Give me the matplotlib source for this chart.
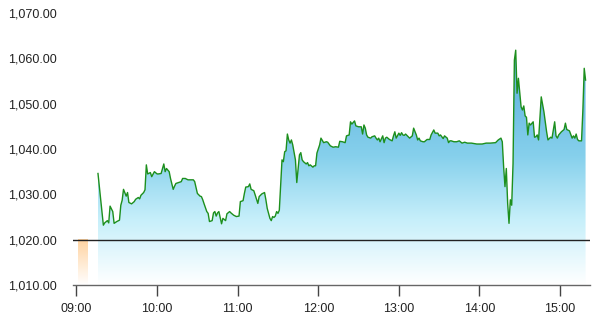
import matplotlib
matplotlib.use("Agg")
import matplotlib.pyplot as plt
import numpy as np
from matplotlib.colors import LinearSegmentedColormap
from matplotlib.ticker import FuncFormatter

plt.rcParams['font.family'] = ['Liberation Sans', 'DejaVu Sans']

times = ["09:16","09:20","09:21","09:23","09:24","09:25","09:27","09:28","09:30","09:32",
         "09:33","09:34","09:35","09:37","09:38","09:39","09:41","09:43","09:44","09:46",
         "09:47","09:48","09:49","09:50","09:51","09:52","09:53","09:55","09:56","09:58",
         "10:00","10:01","10:03","10:05","10:06","10:07","10:09","10:10","10:12","10:13",
         "10:14","10:16","10:18","10:19","10:21","10:23","10:25","10:27","10:28","10:30",
         "10:32","10:33","10:34","10:35","10:37","10:38","10:39","10:41","10:42","10:43",
         "10:44","10:45","10:46","10:48","10:49","10:51","10:52","10:54","10:55","10:57",
         "10:59","11:01","11:02","11:04","11:05","11:06","11:08","11:09","11:10","11:12",
         "11:13","11:15","11:16","11:18","11:20","11:21","11:22","11:24","11:25","11:26",
         "11:27","11:28","11:29","11:30","11:31","11:33","11:34","11:35","11:36","11:37",
         "11:38","11:39","11:40","11:41","11:43","11:44","11:46","11:47","11:48","11:49",
         "11:51","11:52","11:53","11:54","11:56","11:57","11:58","11:59","12:01","12:02",
         "12:04","12:06","12:07","12:09","12:11","12:13","12:15","12:16","12:18","12:20",
         "12:21","12:23","12:24","12:25","12:27","12:28","12:30","12:32","12:33","12:34",
         "12:35","12:36","12:37","12:39","12:40","12:42","12:43","12:44","12:45","12:46",
         "12:48","12:49","12:50","12:51","12:53","12:55","12:56","12:57","12:58","13:00",
         "13:01","13:02","13:03","13:04","13:05","13:07","13:08","13:10","13:11","13:13",
         "13:14","13:15","13:16","13:18","13:19","13:21","13:23","13:24","13:26","13:27",
         "13:29","13:30","13:31","13:33","13:34","13:36","13:37","13:38","13:39","13:41",
         "13:43","13:45","13:47","13:49","13:51","13:54","13:58","14:02","14:05","14:08",
         "14:12","14:14","14:16","14:17","14:18","14:19","14:20","14:21","14:22","14:23",
         "14:24","14:25","14:26","14:27","14:28","14:29","14:31","14:32","14:33","14:34",
         "14:35","14:36","14:37","14:38","14:40","14:41","14:42","14:43","14:44","14:46",
         "14:48","14:50","14:51","14:53","14:54","14:56","14:57","14:58","14:59","15:01",
         "15:03","15:04","15:05","15:07","15:09","15:10","15:11","15:12","15:13","15:14",
         "15:16","15:17","15:18","15:19"]

prices = [1034.6,1023.2,1023.7,1024.2,1023.7,1027.4,1026.2,1023.6,1024.0,1024.3,
          1027.6,1028.7,1031.1,1029.6,1030.4,1028.2,1027.9,1028.4,1028.9,1029.3,
          1029.0,1029.8,1030.1,1030.4,1031.0,1036.5,1034.5,1034.8,1033.9,1035.0,
          1034.5,1034.5,1034.6,1036.7,1035.0,1035.7,1035.0,1033.5,1031.1,1031.8,
          1032.4,1032.6,1032.8,1033.5,1033.5,1033.2,1033.2,1033.2,1032.8,1030.2,
          1029.6,1029.5,1028.8,1027.9,1026.2,1025.8,1024.0,1024.2,1025.9,1026.2,
          1025.2,1025.9,1026.2,1023.5,1024.7,1024.2,1025.7,1026.2,1025.9,1025.4,
          1025.1,1025.2,1028.4,1028.6,1030.2,1031.6,1031.7,1032.3,1031.1,1030.8,
          1029.9,1028.0,1029.5,1030.1,1030.4,1028.8,1026.9,1024.7,1024.2,1025.1,
          1024.9,1025.2,1026.2,1025.8,1026.5,1037.6,1037.2,1039.4,1039.6,1043.3,
          1042.0,1041.3,1042.0,1040.9,1037.6,1032.6,1038.7,1039.2,1037.6,1037.2,
          1036.7,1037.0,1036.3,1036.5,1036.0,1036.3,1036.3,1039.1,1040.9,1042.4,
          1041.4,1041.6,1041.5,1040.7,1040.4,1040.5,1040.4,1041.7,1041.6,1041.4,
          1042.9,1043.1,1046.0,1045.5,1046.2,1045.1,1044.9,1044.9,1043.3,1045.3,
          1044.6,1043.1,1042.6,1042.4,1042.7,1042.9,1042.4,1042.0,1042.4,1041.6,
          1042.9,1041.4,1042.4,1042.6,1042.1,1041.8,1042.9,1043.8,1042.4,1043.5,
          1043.0,1043.6,1043.1,1043.0,1043.3,1042.7,1042.4,1042.9,1044.6,1043.1,
          1042.0,1042.4,1041.8,1041.6,1041.6,1042.1,1042.1,1043.1,1044.2,1043.5,
          1043.5,1042.9,1043.1,1042.3,1042.9,1042.4,1041.4,1041.8,1041.8,1041.6,
          1041.6,1041.8,1041.3,1041.5,1041.3,1041.3,1041.1,1041.1,1041.3,1041.3,
          1041.4,1042.0,1042.4,1041.6,1036.1,1031.7,1035.7,1028.0,1023.6,1028.8,
          1027.6,1036.8,1059.6,1061.8,1052.3,1055.6,1049.3,1048.6,1049.5,1047.3,
          1047.0,1043.1,1045.7,1045.3,1046.0,1042.6,1042.7,1043.1,1042.0,1051.5,
          1048.2,1043.8,1042.0,1042.6,1042.4,1046.0,1042.9,1042.4,1043.1,1043.8,
          1044.3,1045.7,1044.3,1044.0,1042.4,1042.9,1042.4,1043.3,1042.1,1041.8,
          1041.8,1048.6,1057.8,1055.2]

prev_close = 1020.0
auction_start, auction_end = "09:01", "09:08"
y_ticks = [1010, 1020, 1030, 1040, 1050, 1060, 1070]
x_tick_labels = ["09:00", "10:00", "11:00", "12:00", "13:00", "14:00", "15:00"]


def to_min(s):
    h, m = s.split(":")
    return (int(h) - 9) * 60 + int(m)


x = np.array([to_min(t) for t in times], dtype=float)
y = np.array(prices)
xticks = [to_min(t) for t in x_tick_labels]

fig = plt.figure(figsize=(5.96, 3.25), dpi=100)
ax = fig.add_axes([73 / 596, 1 - 285 / 325, (590 - 73) / 596, (285 - 13) / 325])
ymin, ymax = 1010, 1070
xmin, xmax = -2.6, 382.3
ax.set_xlim(xmin, xmax)
ax.set_ylim(ymin, ymax)

# blue gradient area
cmap = LinearSegmentedColormap.from_list(
    "area", [(0.0, "#ffffff"), (0.28, "#c6effa"), (0.55, "#86d0ec"), (1.0, "#58acdb")])
top = y.max()
grad = np.linspace(0, 1, 256).reshape(-1, 1)
im = ax.imshow(grad, cmap=cmap, origin="lower", aspect="auto",
               extent=[x[0], x[-1], ymin, top], zorder=1)
poly = ax.fill_between(x, y, ymin, color="none", lw=0)
path = poly.get_paths()[0]
im.set_clip_path(path, transform=ax.transData)

# orange auction bar
ocmap = LinearSegmentedColormap.from_list("orange", ["#ffffff", "#ffd3a0"])
a0, a1 = to_min(auction_start), to_min(auction_end)
ax.imshow(grad, cmap=ocmap, origin="lower", aspect="auto",
          extent=[a0, a1, ymin, prev_close], zorder=1)

ax.plot(x, y, color="#1d8f1d", lw=1.0, zorder=3)
ax.axhline(prev_close, color="#222222", lw=1.0, zorder=4)

ax.set_xlim(xmin, xmax)
ax.set_ylim(ymin, ymax)
ax.set_yticks(y_ticks)
ax.yaxis.set_major_formatter(FuncFormatter(lambda v, p: f"{v:,.2f}"))
ax.set_xticks(xticks)
ax.set_xticklabels(x_tick_labels)
ax.tick_params(axis="y", length=0, pad=12, labelsize=9, labelcolor="#222222")
ax.tick_params(axis="x", length=8, width=1, color="#444444", pad=5, labelsize=9,
               labelcolor="#222222")
for s in ["top", "right", "left"]:
    ax.spines[s].set_visible(False)
ax.spines["bottom"].set_color("#666666")
ax.spines["bottom"].set_linewidth(1.0)

fig.savefig("out.png", dpi=100)
